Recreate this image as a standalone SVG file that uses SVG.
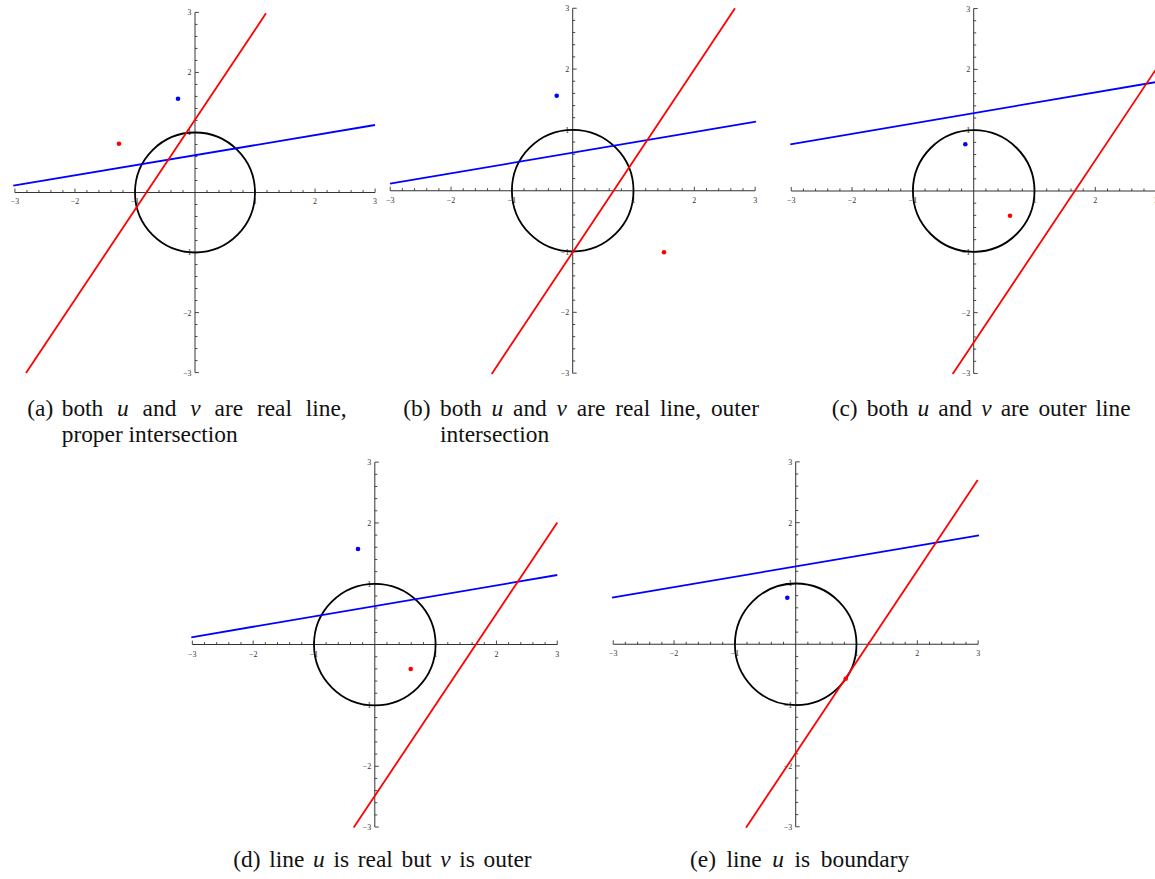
<svg xmlns="http://www.w3.org/2000/svg" width="1155" height="879" viewBox="0 0 1155 879">
<style>
.ax{stroke:#333;stroke-width:1;fill:none}
.tk{stroke:#333;stroke-width:0.9;fill:none}
.tl{font-family:"Liberation Serif",serif;font-size:8px;fill:#333}
.tx{text-anchor:middle}
.ty{text-anchor:end}
.circ{fill:none;stroke:#000;stroke-width:1.8}
.blue{stroke:#0000ff;stroke-width:1.8;fill:none}
.red{stroke:#ff0000;stroke-width:1.8;fill:none}
.bd{fill:#0000ff}
.rd{fill:#ff0000}
.cap{font-family:"Liberation Serif","Times New Roman",serif;font-size:23.4px;fill:#111}
.m{font-style:italic}
</style>
<defs>
<g id="axes">
<path class="ax" d="M-182.1 0H182.1M0 -182.1V182.1"/>
<path class="tk" d="M-169.96 0v-2.5M-157.82 0v-2.5M-145.68 0v-2.5M-133.54 0v-2.5M-109.26 0v-2.5M-97.12 0v-2.5M-84.98 0v-2.5M-72.84 0v-2.5M-48.56 0v-2.5M-36.42 0v-2.5M-24.28 0v-2.5M-12.14 0v-2.5M12.14 0v-2.5M24.28 0v-2.5M36.42 0v-2.5M48.56 0v-2.5M72.84 0v-2.5M84.98 0v-2.5M97.12 0v-2.5M109.26 0v-2.5M133.54 0v-2.5M145.68 0v-2.5M157.82 0v-2.5M169.96 0v-2.5M-182.1 0v-4M-121.4 0v-4M-60.7 0v-4M60.7 0v-4M121.4 0v-4M182.1 0v-4M0 -169.96h2.5M0 -157.82h2.5M0 -145.68h2.5M0 -133.54h2.5M0 -109.26h2.5M0 -97.12h2.5M0 -84.98h2.5M0 -72.84h2.5M0 -48.56h2.5M0 -36.42h2.5M0 -24.28h2.5M0 -12.14h2.5M0 12.14h2.5M0 24.28h2.5M0 36.42h2.5M0 48.56h2.5M0 72.84h2.5M0 84.98h2.5M0 97.12h2.5M0 109.26h2.5M0 133.54h2.5M0 145.68h2.5M0 157.82h2.5M0 169.96h2.5M0 -182.1h4M0 -121.4h4M0 -60.7h4M0 60.7h4M0 121.4h4M0 182.1h4"/>
<text class="tl tx" x="-182.1" y="12">−3</text>
<text class="tl tx" x="-121.4" y="12">−2</text>
<text class="tl tx" x="-60.7" y="12">−1</text>
<text class="tl tx" x="60.7" y="12">1</text>
<text class="tl tx" x="121.4" y="12">2</text>
<text class="tl tx" x="182.1" y="12">3</text>
<text class="tl ty" x="-3.5" y="-179.1">3</text>
<text class="tl ty" x="-3.5" y="-118.4">2</text>
<text class="tl ty" x="-3.5" y="-57.7">1</text>
<text class="tl ty" x="-3.5" y="63.7">−1</text>
<text class="tl ty" x="-3.5" y="124.4">−2</text>
<text class="tl ty" x="-3.5" y="185.1">−3</text>
</g>
</defs>

<g id="panel-a" transform="translate(195,192.5)">
<use href="#axes" transform="scale(0.989)"/>
<circle class="circ" cx="0" cy="0" r="60"/>
<path class="blue" d="M-181.7 -6.8L180 -67.5"/>
<path class="red" d="M-169 180.5L71 -179.2"/>
<circle class="bd" cx="-17" cy="-93.8" r="2.3"/>
<circle class="rd" cx="-76" cy="-48.8" r="2.3"/>
</g>

<g id="panel-b" transform="translate(572.7,190.7)">
<use href="#axes" transform="scale(1.002)"/>
<circle class="circ" cx="0" cy="0" r="60.8"/>
<path class="blue" d="M-182.7 -7L183.3 -69"/>
<path class="red" d="M-81 183.3L162.3 -182.4"/>
<circle class="bd" cx="-16" cy="-95" r="2.3"/>
<circle class="rd" cx="91.3" cy="61.6" r="2.3"/>
</g>

<g id="panel-c" transform="translate(973.7,191)">
<use href="#axes" transform="scale(1.002)"/>
<circle class="circ" cx="0" cy="0" r="60.8"/>
<path class="blue" d="M-183.4 -46.7L182.4 -108.9"/>
<path class="red" d="M-21 183L182.4 -121.9"/>
<circle class="bd" cx="-8.4" cy="-46.7" r="2.3"/>
<circle class="rd" cx="36.3" cy="24.7" r="2.3"/>
</g>

<g id="panel-d" transform="translate(374.8,644.6)">
<use href="#axes" transform="scale(1.002)"/>
<circle class="circ" cx="0" cy="0" r="60.8"/>
<path class="blue" d="M-183.5 -7.3L182.5 -69.6"/>
<path class="red" d="M-21.1 182.9L182.5 -122.1"/>
<circle class="bd" cx="-16.8" cy="-95.6" r="2.3"/>
<circle class="rd" cx="35.9" cy="24.4" r="2.3"/>
</g>

<g id="panel-e" transform="translate(795.7,644.3)">
<use href="#axes" transform="scale(1.002)"/>
<circle class="circ" cx="0" cy="0" r="60.8"/>
<path class="blue" d="M-183.7 -46.6L183.3 -109"/>
<path class="red" d="M-49.7 183.4L182 -164.3"/>
<circle class="bd" cx="-8.4" cy="-46.6" r="2.3"/>
<circle class="rd" cx="50" cy="34.4" r="2.3"/>
</g>

<g id="captions">
<text class="cap" y="415.7"><tspan x="27.3">(a)</tspan><tspan x="61.7">both</tspan><tspan class="m" x="117.1">u</tspan><tspan x="142.6">and</tspan><tspan class="m" x="190.3">v</tspan><tspan x="214.5">are</tspan><tspan x="256.9">real</tspan><tspan x="305.8">line,</tspan></text>
<text class="cap" x="61.7" y="441.7">proper intersection</text>
<text class="cap" y="415.7"><tspan x="403.3">(b)</tspan><tspan x="440">both</tspan><tspan class="m" x="491.4">u</tspan><tspan x="513">and</tspan><tspan class="m" x="556.6">v</tspan><tspan x="576.8">are</tspan><tspan x="615.2">real</tspan><tspan x="660.1">line,</tspan><tspan x="710.9">outer</tspan></text>
<text class="cap" x="440" y="441.7">intersection</text>
<text class="cap" y="415.7"><tspan x="831.7">(c)</tspan><tspan x="866.8">both</tspan><tspan class="m" x="917.5">u</tspan><tspan x="938.3">and</tspan><tspan class="m" x="981.2">v</tspan><tspan x="1000.7">are</tspan><tspan x="1038.4">outer</tspan><tspan x="1095.6">line</tspan></text>
<text class="cap" y="867"><tspan x="233.3">(d)</tspan><tspan x="269.3">line</tspan><tspan class="m" x="313.1">u</tspan><tspan x="333.5">is</tspan><tspan x="357.8">real</tspan><tspan x="401.6">but</tspan><tspan class="m" x="440.2">v</tspan><tspan x="459.3">is</tspan><tspan x="483.6">outer</tspan></text>
<text class="cap" y="867"><tspan x="690">(e)</tspan><tspan x="726.6">line</tspan><tspan class="m" x="772.3">u</tspan><tspan x="794.6">is</tspan><tspan x="820.8">boundary</tspan></text>
</g>
</svg>
